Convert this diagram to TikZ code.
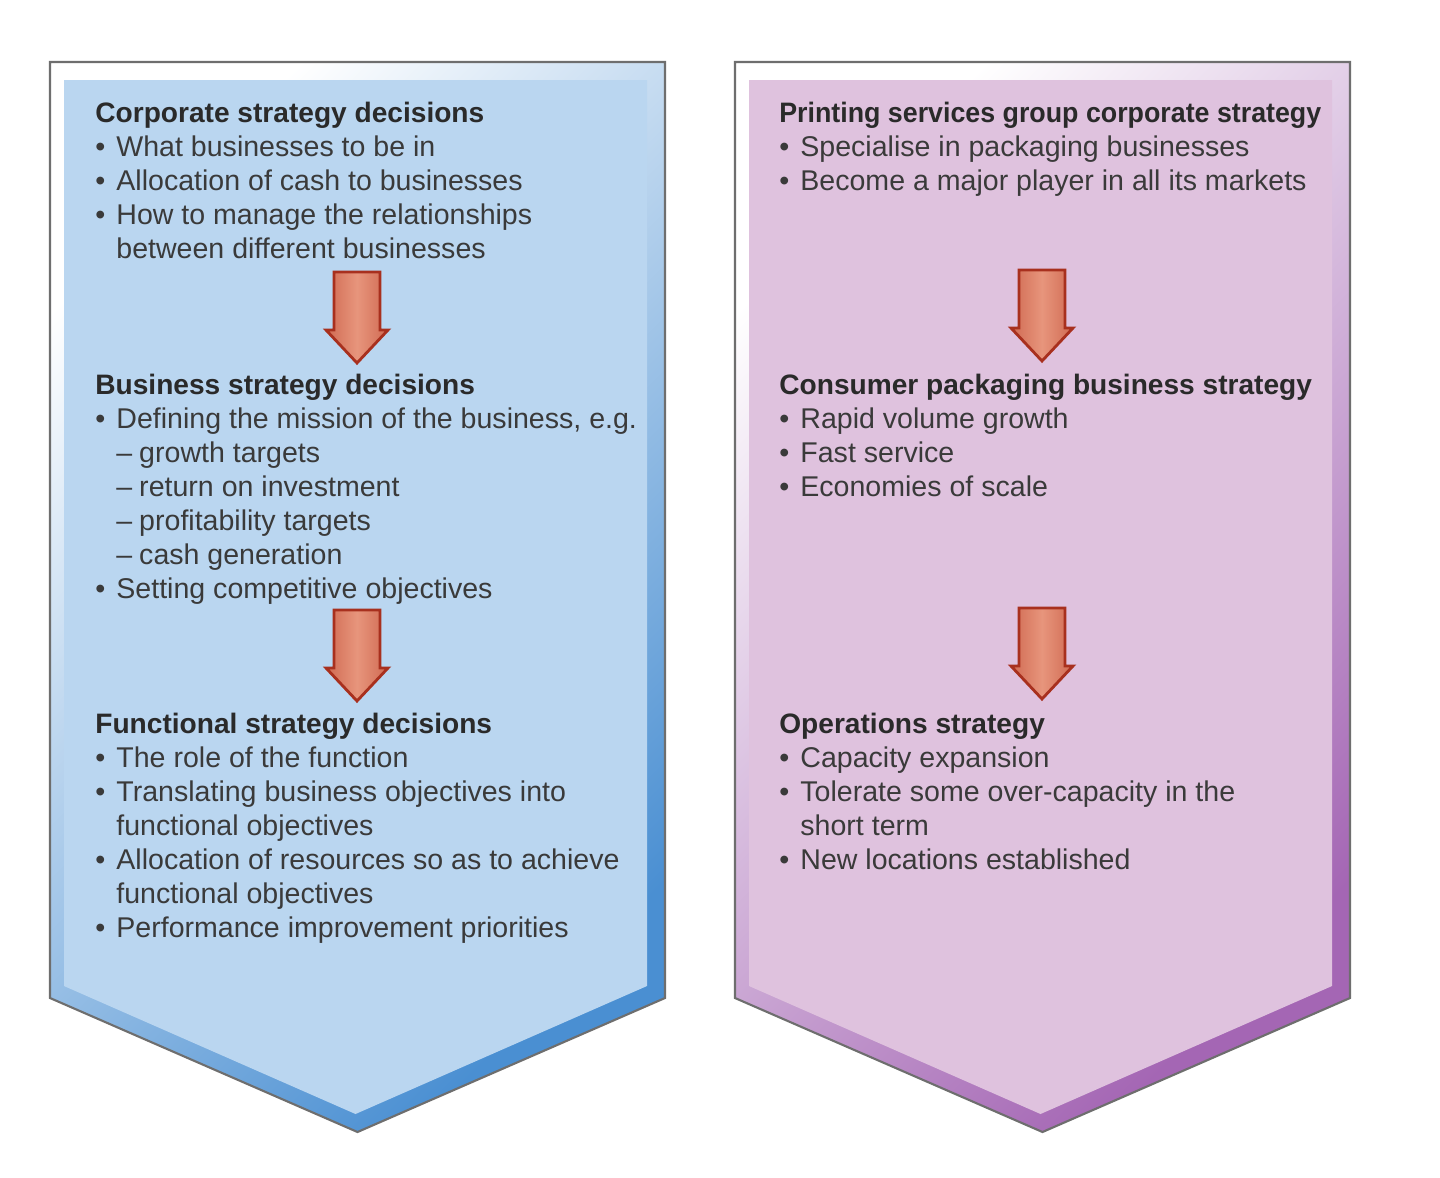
\documentclass[tikz,border=0pt]{standalone}
\usepackage{fontspec}
\usepackage{graphicx}
\setmainfont{Liberation Sans}
\usetikzlibrary{calc}

\definecolor{blueface}{HTML}{BAD6F0}
\definecolor{blueedge}{HTML}{4A8FD2}
\definecolor{lilacface}{HTML}{DFC2DE}
\definecolor{lilacedge}{HTML}{A466B4}
\definecolor{arrowlite}{HTML}{E7957C}
\definecolor{arrowdark}{HTML}{D06A52}
\definecolor{arrowline}{HTML}{A8301E}
\definecolor{rimgray}{HTML}{6E6E6E}
\definecolor{inkhead}{HTML}{2A2A2A}
\definecolor{inkbody}{HTML}{3A3A3A}

\newlength{\bulw}\setlength{\bulw}{12pt}
\newlength{\dashw}\setlength{\dashw}{13pt}
\newcommand{\itm}[1]{\makebox[\bulw][l]{\textbullet}#1}
\newcommand{\cnt}[1]{\hspace*{\bulw}#1}
\newcommand{\subitm}[1]{\hspace*{\bulw}\makebox[\dashw][l]{--}#1}
\newcommand{\hd}[1]{{\fontsize{16}{19.3}\selectfont\bfseries\color{inkhead}#1}}

% pentagon: left, right, top, side bottom, tip
\def\pentpath(#1,#2,#3,#4,#5){(#1,#3) -- (#2,#3) -- (#2,#4) -- ({(#1+#2)/2},#5) -- (#1,#4) -- cycle}
% block arrow: centre x, top y
\def\downarrow(#1,#2){\draw[blockarrow] (#1-23,#2) -- (#1+23,#2) -- (#1+23,#2+58) -- (#1+31,#2+58) -- (#1,#2+91) -- (#1-31,#2+58) -- (#1-23,#2+58) -- cycle;}

\tikzset{
  blockarrow/.style={draw=arrowline, line width=1.6pt, line join=miter,
    shading=axis, left color=arrowdark, right color=arrowdark, middle color=arrowlite},
  blocktext/.style={anchor=north west, inner sep=0pt, align=left, text=inkbody,
    font=\fontsize{16.25}{19.3}\selectfont}
}

\begin{document}
\begin{tikzpicture}[x=0.02cm, y=-0.02cm]
  \useasboundingbox (0,0) rectangle (1440,1177);
  \fill[white] (0,0) rectangle (1440,1177);

  %%%%% LEFT PANEL %%%%%
  \shade[top color=white, bottom color=blueedge, shading angle=45] \pentpath(50,665,62,998,1132);
  \fill[blueface] \pentpath(64,647,80,986,1114);
  \draw[rimgray, line width=1.2pt, line join=miter] \pentpath(50,665,62,998,1132);

  \downarrow(357,272)
  \downarrow(357,610)

  \node[blocktext] (corp) at (95,102) {\hd{Corporate strategy decisions}\\
    \itm{What businesses to be in}\\
    \itm{Allocation of cash to businesses}\\
    \itm{How to manage the relationships}\\
    \cnt{between different businesses}};

  \node[blocktext] (bus) at (95,374) {\hd{Business strategy decisions}\\
    \itm{Defining the mission of the business, e.g.}\\
    \subitm{growth targets}\\
    \subitm{return on investment}\\
    \subitm{profitability targets}\\
    \subitm{cash generation}\\
    \itm{Setting competitive objectives}};

  \node[blocktext] (func) at (95,713) {\hd{Functional strategy decisions}\\
    \itm{The role of the function}\\
    \itm{Translating business objectives into}\\
    \cnt{functional objectives}\\
    \itm{Allocation of resources so as to achieve}\\
    \cnt{functional objectives}\\
    \itm{Performance improvement priorities}};

  %%%%% RIGHT PANEL %%%%%
  \shade[top color=white, bottom color=lilacedge, shading angle=45] \pentpath(735,1350,62,998,1132);
  \fill[lilacface] \pentpath(749,1332,80,986,1114);
  \draw[rimgray, line width=1.2pt, line join=miter] \pentpath(735,1350,62,998,1132);

  \downarrow(1042,270)
  \downarrow(1042,608)

  \node[blocktext] (grp) at (779,102) {\hd{\scalebox{0.953}[1]{Printing services group corporate strategy}}\\
    \itm{Specialise in packaging businesses}\\
    \itm{Become a major player in all its markets}};

  \node[blocktext] (cons) at (779,374) {\hd{Consumer packaging business strategy}\\
    \itm{Rapid volume growth}\\
    \itm{Fast service}\\
    \itm{Economies of scale}};

  \node[blocktext] (ops) at (779,713) {\hd{Operations strategy}\\
    \itm{Capacity expansion}\\
    \itm{Tolerate some over-capacity in the}\\
    \cnt{short term}\\
    \itm{New locations established}};
\end{tikzpicture}
\end{document}
